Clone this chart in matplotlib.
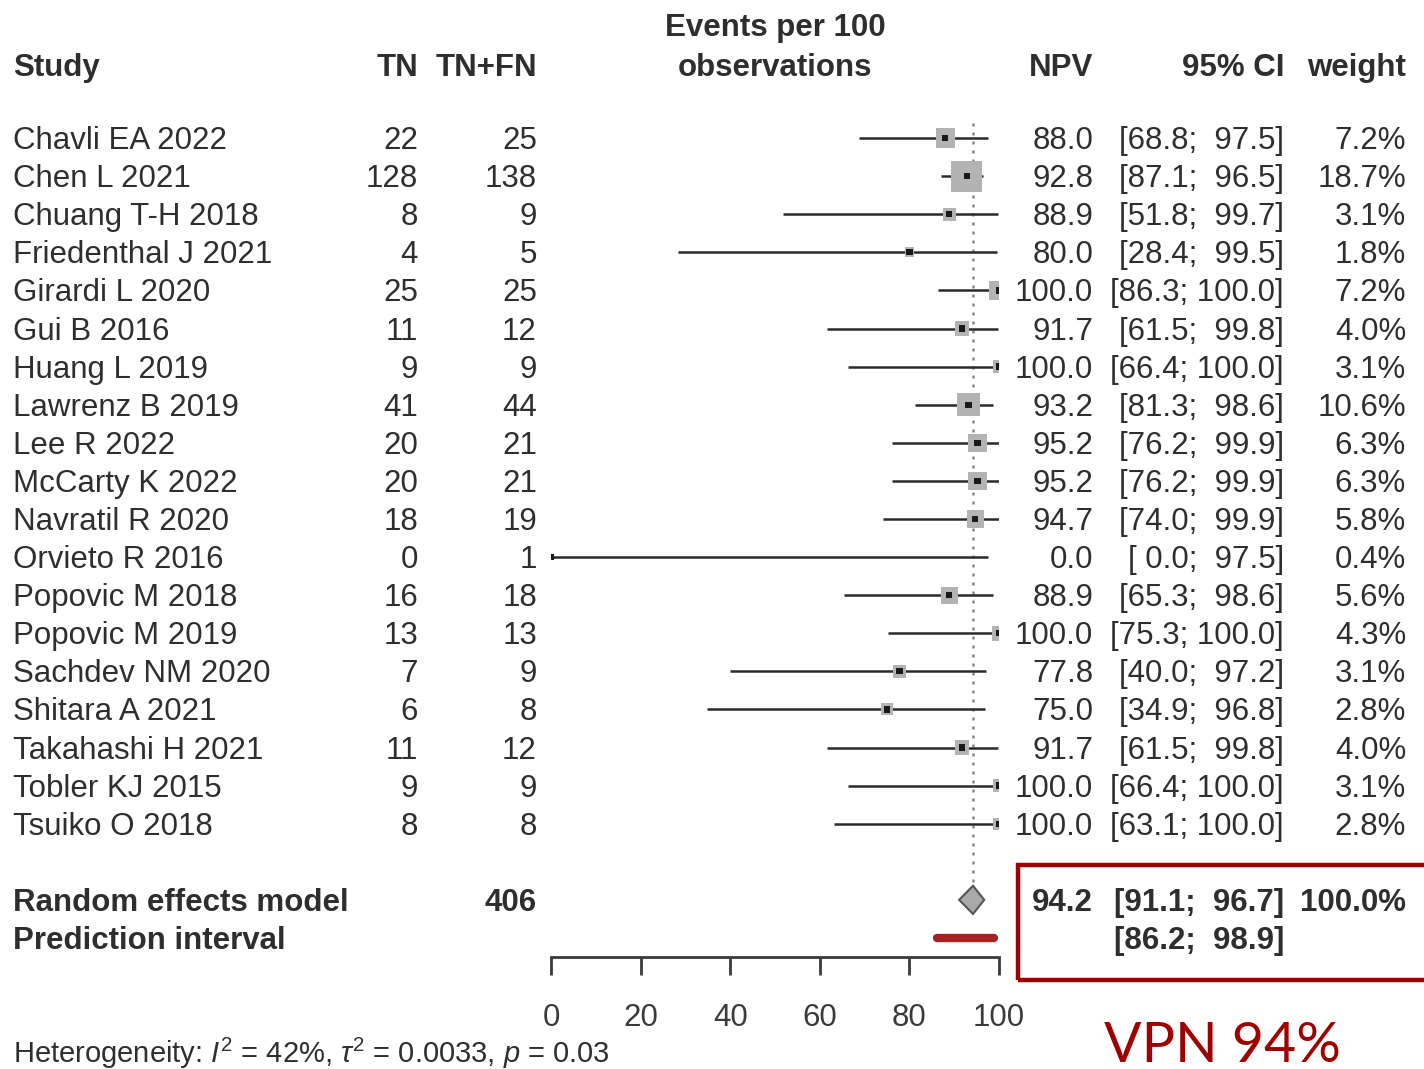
import numpy as np
import matplotlib
matplotlib.use("Agg")
import matplotlib.pyplot as plt
from matplotlib.transforms import blended_transform_factory
from matplotlib.patches import Polygon, Rectangle

plt.rcParams['font.family'] = ['Liberation Sans', 'DejaVu Sans']
plt.rcParams['mathtext.fontset'] = 'custom'
plt.rcParams['mathtext.rm'] = 'Liberation Sans'
plt.rcParams['mathtext.it'] = 'Liberation Sans:italic'

studies = ["Chavli EA 2022", "Chen L 2021", "Chuang T-H 2018", "Friedenthal J 2021",
           "Girardi L 2020", "Gui B 2016", "Huang L 2019", "Lawrenz B 2019",
           "Lee R 2022", "McCarty K 2022", "Navratil R 2020", "Orvieto R 2016",
           "Popovic M 2018", "Popovic M 2019", "Sachdev NM 2020", "Shitara A 2021",
           "Takahashi H 2021", "Tobler KJ 2015", "Tsuiko O 2018"]
tn = [22, 128, 8, 4, 25, 11, 9, 41, 20, 20, 18, 0, 16, 13, 7, 6, 11, 9, 8]
tn_fn = [25, 138, 9, 5, 25, 12, 9, 44, 21, 21, 19, 1, 18, 13, 9, 8, 12, 9, 8]
npv = [88.0, 92.8, 88.9, 80.0, 100.0, 91.7, 100.0, 93.2, 95.2, 95.2, 94.7, 0.0,
       88.9, 100.0, 77.8, 75.0, 91.7, 100.0, 100.0]
ci_low = [68.8, 87.1, 51.8, 28.4, 86.3, 61.5, 66.4, 81.3, 76.2, 76.2, 74.0, 0.0,
          65.3, 75.3, 40.0, 34.9, 61.5, 66.4, 63.1]
ci_high = [97.5, 96.5, 99.7, 99.5, 100.0, 99.8, 100.0, 98.6, 99.9, 99.9, 99.9, 97.5,
           98.6, 100.0, 97.2, 96.8, 99.8, 100.0, 100.0]
weight = [7.2, 18.7, 3.1, 1.8, 7.2, 4.0, 3.1, 10.6, 6.3, 6.3, 5.8, 0.4, 5.6, 4.3,
          3.1, 2.8, 4.0, 3.1, 2.8]

pooled = 94.2
pooled_ci = (91.1, 96.7)
pooled_weight = 100.0
pred_int = (86.2, 98.9)
x_ticks = [0, 20, 40, 60, 80, 100]

W, H = 1424, 1069
TXT = "#2e2e2e"
RED = "#a00000"
FS = 22.5

fig = plt.figure(figsize=(W / 100, H / 100), dpi=100)
fig.patch.set_facecolor("white")


def fx(px):
    return px / W


def fy(py):
    return 1 - py / H


# forest panel: one row unit per study line
row_top, row_bottom = -0.5, 21.5
ax = fig.add_axes([fx(551), fy(957), fx(999) - fx(551), fy(119) - fy(957)])
ax.set_xlim(0, 100)
ax.set_ylim(row_bottom, row_top)
for s in ["top", "right", "left"]:
    ax.spines[s].set_visible(False)
ax.spines["bottom"].set_bounds(0, 100)
ax.spines["bottom"].set_linewidth(2)
ax.spines["bottom"].set_color("#3a3a3a")
ax.set_yticks([])
ax.set_xticks(x_ticks)
ax.tick_params(axis="x", direction="out", length=13, width=2, color="#3a3a3a",
               labelsize=FS, labelcolor="#3a3a3a", pad=20)
ax.patch.set_alpha(0)

n = len(studies)
rows = np.arange(n)
summary_row = n + 1
pred_row = n + 2

# reference line at the pooled estimate
ax.plot([pooled, pooled], [-0.4, summary_row - 0.35], linestyle=(0, (1.2, 2.4)),
        color="#888888", lw=1.8, zorder=1)

# study confidence intervals, weighted boxes and point estimates
ax.hlines(rows, ci_low, ci_high, color="#2a2a2a", lw=1.8, zorder=2)
box = 7.2 * np.sqrt(np.array(weight)) * 0.72
ax.scatter(npv, rows, marker="s", s=box ** 2, color="#b3b3b3", edgecolors="none",
           zorder=3)
ax.scatter(npv, rows, marker="s", s=20, color="#1a1a1a", edgecolors="none", zorder=4)

# pooled diamond and prediction interval
dh = 0.37
diamond = Polygon([[pooled_ci[0], summary_row], [pooled, summary_row - dh],
                   [pooled_ci[1], summary_row], [pooled, summary_row + dh]],
                  closed=True, facecolor="#aaaaaa", edgecolor="#555555", lw=1.5,
                  zorder=4)
ax.add_patch(diamond)
ax.plot(pred_int, [pred_row, pred_row], color="#a52222", lw=6,
        solid_capstyle="round", zorder=4)

# text columns
tr = blended_transform_factory(fig.transFigure, ax.transData)
dy = 0.08


def put(px, row, s, ha="left", bold=False, size=FS):
    fig.text(fx(px), row + dy, s, transform=tr, ha=ha, va="center", fontsize=size,
             color=TXT, fontweight="bold" if bold else "normal")


hdr = -1.92
put(13, hdr, "Study", bold=True)
put(418, hdr, "TN", ha="right", bold=True)
put(537, hdr, "TN+FN", ha="right", bold=True)
put(775, hdr - 1.05, "Events per 100", ha="center", bold=True)
put(775, hdr, "observations", ha="center", bold=True)
put(1093, hdr, "NPV", ha="right", bold=True)
put(1284, hdr, "95% CI", ha="right", bold=True)
put(1406, hdr, "weight", ha="right", bold=True)

for i in range(n):
    put(13, i, studies[i])
    put(418, i, str(tn[i]), ha="right")
    put(537, i, str(tn_fn[i]), ha="right")
    put(1093, i, f"{npv[i]:.1f}", ha="right")
    put(1284, i, f"[{ci_low[i]:4.1f}; {ci_high[i]:5.1f}]", ha="right")
    put(1406, i, f"{weight[i]:.1f}%", ha="right")

put(13, summary_row, "Random effects model", bold=True)
put(537, summary_row, str(sum(tn_fn)), ha="right", bold=True)
put(1093, summary_row, f"{pooled:.1f}", ha="right", bold=True)
put(1284, summary_row, f"[{pooled_ci[0]:.1f}; {pooled_ci[1]:5.1f}]", ha="right", bold=True)
put(1406, summary_row, f"{pooled_weight:.1f}%", ha="right", bold=True)
put(13, pred_row, "Prediction interval", bold=True)
put(1284, pred_row, f"[{pred_int[0]:.1f}; {pred_int[1]:5.1f}]", ha="right", bold=True)

fig.text(fx(13), fy(1053), r"Heterogeneity: $I^2$ = 42%, $\tau^2$ = 0.0033, $p$ = 0.03",
         ha="left", va="center", fontsize=21, color=TXT)

# highlight frame around the pooled result
fig.patches.append(Rectangle((fx(1018), fy(980)), fx(1430) - fx(1018), fy(865) - fy(980),
                             transform=fig.transFigure, fill=False, edgecolor=RED,
                             lw=3.2, zorder=5))
fig.text(fx(1222), fy(1046), "VPN 94%", ha="center", va="center", fontsize=40,
         color=RED, family=["Lato", "DejaVu Sans"])

fig.savefig("out.png", dpi=100, facecolor="white")
